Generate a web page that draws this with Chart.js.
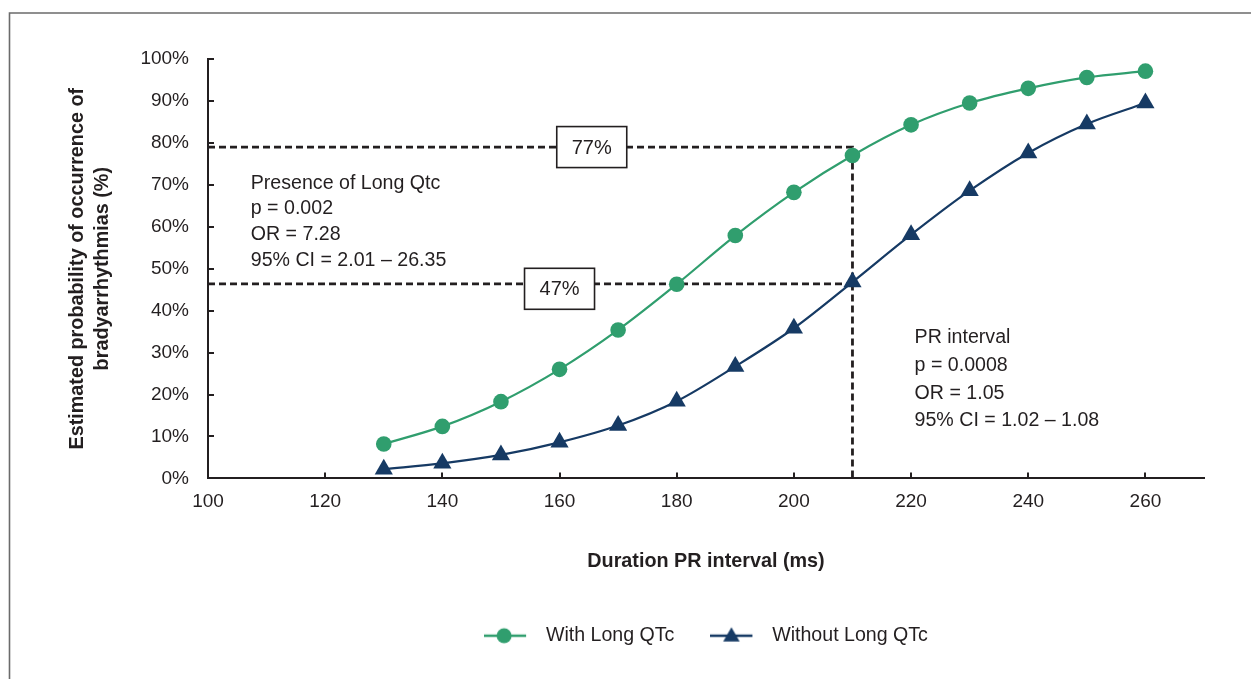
<!DOCTYPE html>
<html>
<head>
<meta charset="utf-8">
<script src="https://cdn.jsdelivr.net/npm/chart.js"></script>
<style>
  html, body { margin: 0; padding: 0; background: #ffffff; }
  #chart { display: block; }
</style>
</head>
<body>
<canvas id="chart" width="1251" height="679"></canvas>
<script>
// --- Datos ---
const prInterval = [130, 140, 150, 160, 170, 180, 190, 200, 210, 220, 230, 240, 250, 260];
const withLongQtc = [8.2, 12.4, 18.3, 26.0, 35.4, 46.3, 57.9, 68.2, 77.0, 84.3, 89.5, 93.0, 95.6, 97.1];
const withoutLongQtc = [2.2, 3.6, 5.6, 8.6, 12.6, 18.4, 26.7, 35.8, 46.8, 58.1, 68.6, 77.6, 84.5, 89.5];
const seriesNames = ["With Long QTc", "Without Long QTc"];

const xTicks = [100, 120, 140, 160, 180, 200, 220, 240, 260];
const yTicks = [0, 10, 20, 30, 40, 50, 60, 70, 80, 90, 100];

const presenceLines = ["Presence of Long Qtc", "p = 0.002", "OR = 7.28", "95% CI = 2.01 \u2013 26.35"];
const prLines = ["PR interval", "p = 0.0008", "OR = 1.05", "95% CI = 1.02 \u2013 1.08"];
const boxLabels = ["77%", "47%"];

// --- Estilos ---
const GREEN = "#309e6e";
const BLUE = "#163a64";
const INK = "#231f20";
const FAMILY = '"Liberation Sans", Arial, sans-serif';

// icono de leyenda: línea + marcador
function legendIcon(color, style) {
    const c = document.createElement("canvas");
    c.width = 52;
    c.height = 20;
    const g = c.getContext("2d");
    g.strokeStyle = color;
    g.lineWidth = 2.5;
    g.beginPath();
    g.moveTo(0, 10);
    g.lineTo(42, 10);
    g.stroke();
    g.fillStyle = color;
    g.beginPath();
    if (style === "circle") {
        g.arc(20, 10, 7.5, 0, Math.PI * 2);
    } else {
        const r = 9.5;
        for (let i = 0; i < 3; i++) {
            const a = i * 2 * Math.PI / 3;
            const px = 21 + Math.sin(a) * r;
            const py = 11 - Math.cos(a) * r;
            if (i === 0) g.moveTo(px, py); else g.lineTo(px, py);
        }
        g.closePath();
    }
    g.fill();
    return c;
}
const legendIcons = [legendIcon(GREEN, "circle"), legendIcon(BLUE, "triangle")];

// --- Anotaciones ---
const annotations = {
    id: "annotations",
    beforeDraw(chart) {
        const ctx = chart.ctx;
        ctx.save();
        ctx.strokeStyle = "#6b6b6b";
        ctx.lineWidth = 1.6;
        ctx.beginPath();
        ctx.moveTo(9.5, 679);
        ctx.lineTo(9.5, 13);
        ctx.lineTo(1251, 13);
        ctx.stroke();
        ctx.restore();
    },
    beforeDatasetsDraw(chart) {
        const ctx = chart.ctx;
        const xs = chart.scales.x;
        const ys = chart.scales.y;
        const area = chart.chartArea;

        ctx.save();
        // marcas hacia dentro
        ctx.strokeStyle = INK;
        ctx.lineWidth = 2;
        ctx.beginPath();
        yTicks.forEach(v => {
            if (v === 0) return;
            const py = Math.round(ys.getPixelForValue(v));
            ctx.moveTo(area.left, py);
            ctx.lineTo(area.left + 6, py);
        });
        xTicks.forEach(v => {
            if (v === 100) return;
            const px = Math.round(xs.getPixelForValue(v));
            ctx.moveTo(px, area.bottom);
            ctx.lineTo(px, area.bottom - 6);
        });
        ctx.stroke();

        // líneas discontinuas
        ctx.setLineDash([7, 4]);
        ctx.lineWidth = 2.8;
        ctx.beginPath();
        const x0 = xs.getPixelForValue(100);
        const x210 = xs.getPixelForValue(210);
        const y79 = ys.getPixelForValue(79);
        const y46 = ys.getPixelForValue(46.4);
        ctx.moveTo(x0, y79);
        ctx.lineTo(x210, y79);
        ctx.lineTo(x210, ys.getPixelForValue(0));
        ctx.moveTo(x0, y46);
        ctx.lineTo(x210, y46);
        ctx.stroke();
        ctx.setLineDash([]);

        // cajas
        const boxes = [
            { text: boxLabels[0], x: 165.5, y: 79, dy: 0 },
            { text: boxLabels[1], x: 160, y: 46.4, dy: 5 }
        ];
        ctx.font = "20px " + FAMILY;
        ctx.textAlign = "center";
        ctx.textBaseline = "middle";
        boxes.forEach(b => {
            const cx = xs.getPixelForValue(b.x);
            const cy = ys.getPixelForValue(b.y) + b.dy;
            ctx.fillStyle = "#ffffff";
            ctx.fillRect(cx - 35, cy - 20.5, 70, 41);
            ctx.strokeStyle = INK;
            ctx.lineWidth = 1.6;
            ctx.strokeRect(cx - 35, cy - 20.5, 70, 41);
            ctx.fillStyle = INK;
            ctx.fillText(b.text, cx, cy + 1);
        });

        // bloques de texto
        const blocks = [
            { lines: presenceLines, x: 107.3, y: 69.1, gap: 25.7 },
            { lines: prLines, x: 220.6, y: 32.2, gap: 27.7 }
        ];
        ctx.font = "19.6px " + FAMILY;
        ctx.textAlign = "left";
        ctx.textBaseline = "alphabetic";
        ctx.fillStyle = INK;
        blocks.forEach(b => {
            const bx = xs.getPixelForValue(b.x);
            const by = ys.getPixelForValue(b.y);
            b.lines.forEach((t, i) => ctx.fillText(t, bx, by + i * b.gap));
        });
        ctx.restore();
    }
};

const datasets = [
    {
        label: seriesNames[0],
        data: prInterval.map((x, i) => ({ x: x, y: withLongQtc[i] })),
        borderColor: GREEN,
        backgroundColor: GREEN,
        borderWidth: 2.2,
        pointStyle: "circle",
        pointRadius: 7.8,
        pointBorderWidth: 0,
        cubicInterpolationMode: "monotone"
    },
    {
        label: seriesNames[1],
        data: prInterval.map((x, i) => ({ x: x, y: withoutLongQtc[i] })),
        borderColor: BLUE,
        backgroundColor: BLUE,
        borderWidth: 2.2,
        pointStyle: "triangle",
        pointRadius: 10.5,
        pointBorderWidth: 0,
        cubicInterpolationMode: "monotone"
    }
];

new Chart(document.getElementById("chart"), {
    type: "line",
    data: { datasets: datasets },
    plugins: [annotations],
    options: {
        responsive: false,
        animation: false,
        layout: { padding: { left: 50, top: 59, right: 47, bottom: 23.5 } },
        plugins: {
            tooltip: { enabled: false },
            legend: {
                position: "bottom",
                fullSize: false,
                labels: {
                    usePointStyle: true,
                    pointStyleWidth: 52,
                    padding: 36,
                    color: INK,
                    font: { family: FAMILY, size: 19.6 },
                    generateLabels(chart) {
                        const items = Chart.defaults.plugins.legend.labels.generateLabels(chart);
                        items.forEach((it, i) => { it.pointStyle = legendIcons[i]; });
                        return items;
                    }
                }
            }
        },
        scales: {
            x: {
                type: "linear",
                min: 100,
                max: 270,
                afterBuildTicks(scale) { scale.ticks = xTicks.map(v => ({ value: v })); },
                afterFit(scale) { scale.height = 111.5; },
                grid: { display: false, drawTicks: false },
                border: { display: true, color: INK, width: 2 },
                ticks: { padding: 12, color: INK, font: { family: FAMILY, size: 19 } },
                title: {
                    display: true,
                    text: "Duration PR interval (ms)",
                    color: INK,
                    font: { family: FAMILY, size: 19.8, weight: "bold", lineHeight: 25 / 19.8 },
                    padding: { top: 0, bottom: 16 }
                }
            },
            y: {
                min: 0,
                max: 100,
                afterBuildTicks(scale) { scale.ticks = yTicks.map(v => ({ value: v })); },
                afterFit(scale) { scale.width = 158; },
                grid: { display: false, drawTicks: false },
                border: { display: true, color: INK, width: 2 },
                ticks: {
                    padding: 19,
                    color: INK,
                    font: { family: FAMILY, size: 19 },
                    callback: v => v + "%"
                },
                title: {
                    display: true,
                    text: ["Estimated probability of occurrence of", "bradyarrhythmias (%)"],
                    color: INK,
                    font: { family: FAMILY, size: 19.8, weight: "bold", lineHeight: 25 / 19.8 },
                    padding: { top: 15.5, bottom: 0 }
                }
            }
        }
    }
});
</script>
</body>
</html>
